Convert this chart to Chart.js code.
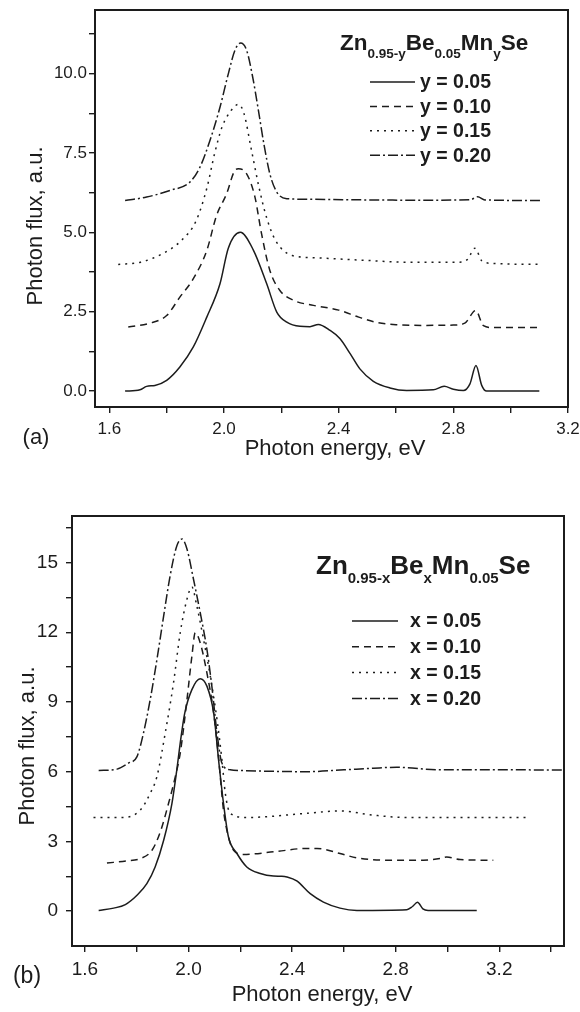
<!DOCTYPE html>
<html>
<head>
<meta charset="utf-8">
<title>Photon flux spectra</title>
<script src="https://cdn.jsdelivr.net/npm/chart.js@4.4.1/dist/chart.umd.min.js"></script>
<style>
    html, body { margin: 0; padding: 0; background: #fff; }
    .panel { position: absolute; left: 0; }
    #panelA { top: 0; }
    #panelB { top: 470px; }
</style>
</head>
<body>
<div class="panel" id="panelA"><canvas id="chartA" width="580" height="470"></canvas></div>
<div class="panel" id="panelB"><canvas id="chartB" width="580" height="542"></canvas></div>
<script>
// (a) Zn(0.95-y)Be(0.05)Mn(y)Se
const energyA1 = [1.655, 1.707, 1.73, 1.759, 1.80, 1.846, 1.893, 1.94, 1.986, 2.015, 2.057, 2.102, 2.149, 2.184, 2.219, 2.265, 2.30, 2.329, 2.37, 2.405, 2.44, 2.474, 2.521, 2.579, 2.637, 2.73, 2.768, 2.80, 2.835, 2.858, 2.879, 2.899, 2.916, 3.0, 3.1];
const fluxA1 = [0.0, 0.04, 0.15, 0.18, 0.34, 0.76, 1.39, 2.33, 3.38, 4.5, 5.0, 4.45, 3.38, 2.49, 2.17, 2.04, 2.03, 2.1, 1.91, 1.65, 1.18, 0.70, 0.31, 0.10, 0.02, 0.04, 0.15, 0.06, 0.02, 0.23, 0.81, 0.18, 0.0, 0.0, 0.0];

const energyA2 = [1.666, 1.742, 1.80, 1.846, 1.893, 1.94, 1.974, 2.009, 2.038, 2.05, 2.079, 2.108, 2.13, 2.16, 2.195, 2.242, 2.312, 2.40, 2.47, 2.53, 2.60, 2.70, 2.80, 2.84, 2.878, 2.905, 2.94, 3.10];
const fluxA2 = [2.02, 2.14, 2.38, 2.96, 3.54, 4.43, 5.53, 6.21, 6.95, 7.0, 6.84, 6.11, 5.0, 3.8, 3.17, 2.86, 2.70, 2.55, 2.33, 2.17, 2.09, 2.07, 2.08, 2.14, 2.54, 2.06, 2.0, 2.0];

const energyA3 = [1.631, 1.709, 1.786, 1.851, 1.903, 1.941, 1.967, 1.993, 2.025, 2.051, 2.07, 2.096, 2.122, 2.148, 2.18, 2.238, 2.316, 2.509, 2.638, 2.818, 2.85, 2.875, 2.90, 2.94, 3.103];
const fluxA3 = [3.99, 4.06, 4.33, 4.74, 5.37, 6.42, 7.47, 8.31, 8.84, 9.03, 8.73, 7.58, 6.42, 5.48, 4.74, 4.27, 4.2, 4.11, 4.06, 4.06, 4.15, 4.5, 4.1, 4.02, 3.99];

const energyA4 = [1.655, 1.73, 1.812, 1.881, 1.916, 1.951, 1.986, 2.015, 2.038, 2.058, 2.079, 2.10, 2.12, 2.139, 2.16, 2.184, 2.219, 2.30, 2.50, 2.70, 2.86, 2.885, 2.91, 3.103];
const fluxA4 = [6.0, 6.11, 6.32, 6.58, 7.05, 7.89, 8.94, 9.99, 10.73, 10.96, 10.73, 9.89, 8.84, 7.79, 6.84, 6.27, 6.06, 6.04, 6.02, 6.01, 6.03, 6.12, 6.02, 6.0];

const labelsA = ['y = 0.05', 'y = 0.10', 'y = 0.15', 'y = 0.20'];
const formulaA = [['Zn', false], ['0.95-y', true], ['Be', false], ['0.05', true], ['Mn', false], ['y', true], ['Se', false]];

// (b) Zn(0.95-x)Be(x)Mn(0.05)Se
const energyB1 = [1.653, 1.711, 1.756, 1.801, 1.839, 1.871, 1.904, 1.936, 1.955, 1.97, 1.985, 2.013, 2.045, 2.071, 2.097, 2.118, 2.135, 2.154, 2.187, 2.225, 2.277, 2.328, 2.36, 2.38, 2.418, 2.47, 2.521, 2.585, 2.65, 2.843, 2.865, 2.884, 2.905, 2.925, 3.113];
const fluxB1 = [0.03, 0.13, 0.28, 0.68, 1.18, 1.90, 3.05, 4.64, 6.1, 7.4, 8.5, 9.53, 10.0, 9.68, 8.53, 6.3, 4.64, 3.20, 2.48, 1.90, 1.62, 1.51, 1.50, 1.47, 1.30, 0.75, 0.39, 0.13, 0.03, 0.06, 0.2, 0.38, 0.1, 0.03, 0.03];

const energyB2 = [1.685, 1.762, 1.814, 1.859, 1.891, 1.923, 1.949, 1.968, 1.994, 2.013, 2.026, 2.045, 2.071, 2.097, 2.116, 2.135, 2.154, 2.174, 2.212, 2.328, 2.457, 2.496, 2.585, 2.65, 2.779, 2.907, 2.971, 2.997, 3.049, 3.177];
const fluxB2 = [2.07, 2.16, 2.26, 2.62, 3.41, 4.64, 5.79, 6.8, 9.1, 10.97, 11.98, 11.55, 10.25, 8.53, 6.6, 4.35, 3.20, 2.62, 2.44, 2.55, 2.70, 2.70, 2.48, 2.29, 2.19, 2.19, 2.26, 2.33, 2.22, 2.19];

const energyB3 = [1.633, 1.749, 1.814, 1.852, 1.878, 1.91, 1.942, 1.968, 1.994, 2.013, 2.032, 2.058, 2.084, 2.11, 2.129, 2.142, 2.161, 2.225, 2.457, 2.585, 2.714, 2.843, 3.319];
const fluxB3 = [4.03, 4.03, 4.35, 5.07, 5.79, 7.66, 9.82, 11.98, 13.42, 13.95, 13.13, 11.69, 10.11, 8.24, 6.51, 5.07, 4.21, 4.03, 4.21, 4.31, 4.13, 4.03, 4.03];

const energyB4 = [1.653, 1.724, 1.768, 1.801, 1.826, 1.852, 1.878, 1.904, 1.929, 1.955, 1.975, 1.994, 2.019, 2.045, 2.071, 2.09, 2.11, 2.129, 2.161, 2.2, 2.457, 2.60, 2.714, 2.804, 2.971, 3.229, 3.45];
const fluxB4 = [6.05, 6.11, 6.37, 6.65, 7.66, 9.10, 10.83, 12.70, 14.43, 15.72, 16.01, 15.58, 14.29, 12.85, 11.26, 9.68, 7.66, 6.37, 6.08, 6.05, 6.0, 6.08, 6.15, 6.19, 6.08, 6.08, 6.07];

const labelsB = ['x = 0.05', 'x = 0.10', 'x = 0.15', 'x = 0.20'];
const formulaB = [['Zn', false], ['0.95-x', true], ['Be', false], ['x', true], ['Mn', false], ['0.05', true], ['Se', false]];

// axis ticks
const energyTicks = [1.6, 2.0, 2.4, 2.8, 3.2];
const energyMinorA = [1.8, 2.2, 2.6, 3.0];
const energyMinorB = [1.8, 2.2, 2.6, 3.0, 3.4];
const fluxTicksA = [0, 2.5, 5, 7.5, 10];
const fluxMinorA = [1.25, 3.75, 6.25, 8.75, 11.25];
const fluxTicksB = [0, 3, 6, 9, 12, 15];
const fluxMinorB = [1.5, 4.5, 7.5, 10.5, 13.5, 16.5];

const xTitle = 'Photon energy, eV';
const yTitle = 'Photon flux, a.u.';

const FONT = "'Liberation Sans', Arial, Helvetica, sans-serif";
const INK = '#1c1c1c';
const dashes = [[], [7, 5], [2, 5], [10, 3, 2, 3]];

Chart.defaults.font.family = FONT;
Chart.defaults.color = INK;

function points(energy, flux) {
    return energy.map((e, i) => ({x: e, y: flux[i]}));
}

function makeDatasets(pairs, labels) {
    return pairs.map(([energy, flux], i) => ({
        label: labels[i],
        data: points(energy, flux),
        borderColor: INK,
        borderWidth: 1.5,
        borderDash: dashes[i],
        pointRadius: 0,
        fill: false,
        cubicInterpolationMode: 'monotone'
    }));
}

function axis({min, max, major, minor, format, size, padding, fontSize, horizontal}) {
    return {
        type: 'linear',
        min: min,
        max: max,
        border: {display: false},
        grid: {drawOnChartArea: false, drawTicks: true, tickLength: 6, color: INK, lineWidth: 1.4},
        ticks: {
            autoSkip: false,
            maxRotation: 0,
            padding: padding,
            color: INK,
            font: {size: fontSize},
            callback: value => major.includes(value) ? format(value) : ''
        },
        afterBuildTicks: scale => {
            scale.ticks = major.concat(minor).sort((a, b) => a - b).map(v => ({value: v}));
        },
        afterFit: scale => {
            if (horizontal) {
                scale.height = size;
            } else {
                scale.width = size;
            }
            scale.paddingLeft = 0;
            scale.paddingRight = 0;
            scale.paddingTop = 0;
            scale.paddingBottom = 0;
        }
    };
}

// frame, axis titles, panel letter and the formula legend
const decorations = {
    id: 'decorations',
    afterDatasetsDraw(chart, args, o) {
        const ctx = chart.ctx;
        const area = chart.chartArea;
        ctx.save();
        ctx.strokeStyle = INK;
        ctx.lineWidth = 2;
        ctx.setLineDash([]);
        ctx.strokeRect(area.left, area.top, area.right - area.left, area.bottom - area.top);

        ctx.fillStyle = INK;
        ctx.textAlign = 'center';
        ctx.textBaseline = 'middle';
        ctx.font = `${o.titleSize}px ${FONT}`;
        ctx.fillText(xTitle, o.xTitle[0], o.xTitle[1]);
        ctx.save();
        ctx.translate(o.yTitle[0], o.yTitle[1]);
        ctx.rotate(-Math.PI / 2);
        ctx.fillText(yTitle, 0, 0);
        ctx.restore();

        ctx.font = `${o.letterSize}px ${FONT}`;
        ctx.fillText(o.letter, o.letterPos[0], o.letterPos[1]);

        // formula with subscripts
        ctx.textAlign = 'left';
        ctx.textBaseline = 'alphabetic';
        let x = o.formulaX;
        o.formula.forEach(([text, sub]) => {
            ctx.font = `bold ${sub ? o.subSize : o.formulaSize}px ${FONT}`;
            ctx.fillText(text, x, o.formulaY + (sub ? o.subDrop : 0));
            x += ctx.measureText(text).width;
        });

        // legend rows
        ctx.textBaseline = 'middle';
        ctx.font = `bold ${o.rowSize}px ${FONT}`;
        chart.data.datasets.forEach((ds, i) => {
            const y = o.rowY + i * o.rowGap;
            ctx.lineWidth = ds.borderWidth;
            ctx.setLineDash(ds.borderDash);
            ctx.beginPath();
            ctx.moveTo(o.lineX[0], y);
            ctx.lineTo(o.lineX[1], y);
            ctx.stroke();
            ctx.fillText(ds.label, o.textX, y + 1);
        });
        ctx.restore();
    }
};

new Chart(document.getElementById('chartA'), {
    type: 'line',
    data: {
        datasets: makeDatasets([[energyA1, fluxA1], [energyA2, fluxA2], [energyA3, fluxA3], [energyA4, fluxA4]], labelsA)
    },
    options: {
        responsive: false,
        animation: false,
        layout: {padding: {left: 0, top: 10, right: 12, bottom: 0}},
        scales: {
            x: axis({min: 1.55, max: 3.2, major: energyTicks, minor: energyMinorA, format: v => v.toFixed(1),
                size: 63, padding: 6, fontSize: 17, horizontal: true}),
            y: axis({min: -0.5, max: 12, major: fluxTicksA, minor: fluxMinorA, format: v => v.toFixed(1),
                size: 95, padding: 2, fontSize: 17, horizontal: false})
        },
        plugins: {
            legend: {display: false},
            tooltip: {enabled: false},
            decorations: {
                titleSize: 22, xTitle: [335, 449], yTitle: [36, 226],
                letter: '(a)', letterSize: 22, letterPos: [36, 438],
                formula: formulaA, formulaX: 340, formulaY: 50, formulaSize: 22.5, subSize: 13.5, subDrop: 8,
                rowY: 82, rowGap: 24.4, rowSize: 19.5, lineX: [370, 415], textX: 420
            }
        }
    },
    plugins: [decorations]
});

new Chart(document.getElementById('chartB'), {
    type: 'line',
    data: {
        datasets: makeDatasets([[energyB1, fluxB1], [energyB2, fluxB2], [energyB3, fluxB3], [energyB4, fluxB4]], labelsB)
    },
    options: {
        responsive: false,
        animation: false,
        layout: {padding: {left: 0, top: 46, right: 16, bottom: 0}},
        scales: {
            x: axis({min: 1.55, max: 3.45, major: energyTicks, minor: energyMinorB, format: v => v.toFixed(1),
                size: 66, padding: 6, fontSize: 19, horizontal: true}),
            y: axis({min: -1.5, max: 17, major: fluxTicksB, minor: fluxMinorB, format: v => String(v),
                size: 72, padding: 8, fontSize: 19, horizontal: false})
        },
        plugins: {
            legend: {display: false},
            tooltip: {enabled: false},
            decorations: {
                titleSize: 22, xTitle: [322, 524.6], yTitle: [28, 276],
                letter: '(b)', letterSize: 23, letterPos: [27, 507],
                formula: formulaB, formulaX: 316, formulaY: 104.3, formulaSize: 26, subSize: 15, subDrop: 9,
                rowY: 151, rowGap: 25.8, rowSize: 19.5, lineX: [352, 398], textX: 410
            }
        }
    },
    plugins: [decorations]
});
</script>
</body>
</html>
